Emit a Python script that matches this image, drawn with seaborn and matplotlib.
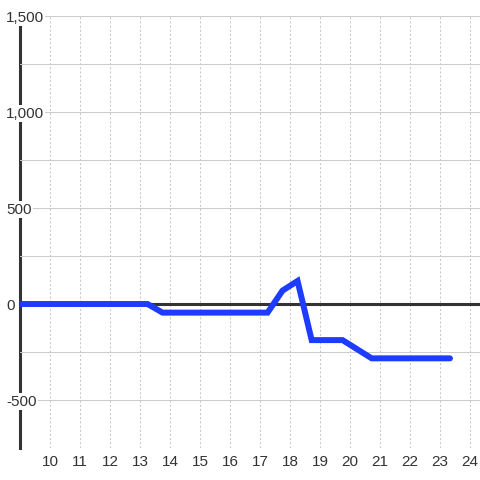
import matplotlib
matplotlib.use("Agg")
import matplotlib.pyplot as plt
import matplotlib.ticker as mticker
import seaborn as sns

# hour of day vs. value
hours = [9.0, 13.25, 13.75, 17.25, 17.75, 18.25, 18.72, 19.75, 20.72, 23.33]
values = [0, 0, -45, -45, 70, 120, -188, -188, -283, -283]

x_ticks = list(range(10, 25))
y_ticks = [-500, 0, 500, 1000, 1500]

sns.set_style("white")
plt.rcParams["font.family"] = ["Liberation Sans", "DejaVu Sans"]

fig = plt.figure(figsize=(4.8, 4.8), dpi=100)
ax = fig.add_axes([20 / 480, 32 / 480, 460 / 480, 432 / 480])

sns.lineplot(x=hours, y=values, color="#1e3cff", linewidth=4.3, ax=ax,
             zorder=4, solid_joinstyle="miter")
ax.axhline(0, color="#333333", linewidth=2.2, zorder=3)

ax.set_xlim(9, 24.33)
ax.set_ylim(-750, 1500)
ax.set_xticks(x_ticks)
ax.set_yticks(y_ticks)
ax.yaxis.set_minor_locator(mticker.MultipleLocator(250))
ax.yaxis.set_major_formatter(mticker.FuncFormatter(lambda v, p: f"{v:,.0f}"))

ax.grid(axis="x", which="major", linestyle=(0, (2, 2)), color="#c8c8c8", linewidth=0.75)
ax.grid(axis="y", which="both", linestyle="-", color="#cccccc", linewidth=0.75)
# seaborn puts the axis below everything; lift it so label boxes hide the spine
ax.set_axisbelow(False)

for side in ["top", "right", "bottom"]:
    ax.spines[side].set_visible(False)
ax.spines["left"].set_color("#333333")
ax.spines["left"].set_linewidth(2.2)
ax.spines["left"].set_zorder(2.2)

ax.tick_params(axis="x", length=0, pad=5, labelsize=11, labelcolor="#333333")
ax.tick_params(axis="y", which="major", direction="out", length=14.4, width=0.75,
               color="#cccccc", pad=-4.3, labelsize=11, labelcolor="#333333")
ax.tick_params(axis="y", which="minor", length=0)
for lab in ax.get_yticklabels():
    lab.set_horizontalalignment("left")
    lab.set_bbox(dict(facecolor="white", edgecolor="none", pad=1))

fig.savefig("out.png", dpi=100)
